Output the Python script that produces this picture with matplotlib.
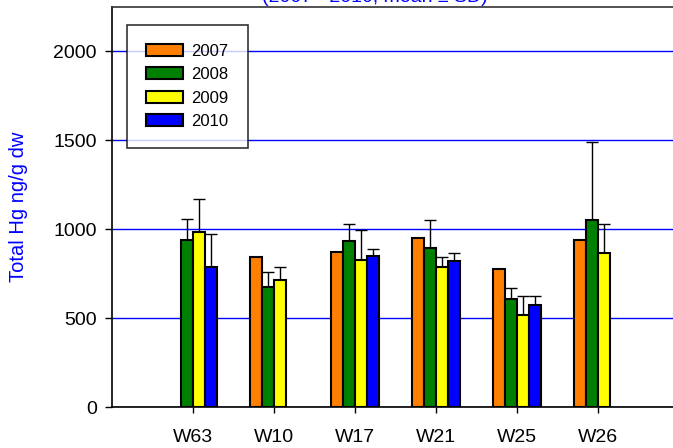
import numpy as np
import matplotlib
matplotlib.use("Agg")
import matplotlib.pyplot as plt

plt.rcParams['font.family'] = ['Liberation Sans', 'DejaVu Sans']

# дані
sites = ["W63", "W10", "W17", "W21", "W25", "W26"]
years = ["2007", "2008", "2009", "2010"]
colors = ["#ff8000", "#008000", "#ffff00", "#0000ff"]
nan = np.nan
mean_2007 = [nan, 841, 871, 948, 774, 939]
mean_2008 = [941, 676, 931, 892, 608, 1050]
mean_2009 = [984, 715, 828, 787, 520, 868]
mean_2010 = [785, nan, 849, 824, 575, nan]
sd_2007 = [0, 0, 0, 0, 0, 0]
sd_2008 = [116, 83, 98, 160, 61, 443]
sd_2009 = [186, 70, 169, 58, 102, 159]
sd_2010 = [186, 0, 37, 45, 52, 0]

means = [mean_2007, mean_2008, mean_2009, mean_2010]
sds = [sd_2007, sd_2008, sd_2009, sd_2010]

fig = plt.figure(figsize=(6.73, 4.48), dpi=100)
ax = fig.add_axes([112 / 673, 41 / 448, 567 / 673, 400 / 448])

x = np.arange(1, len(sites) + 1)
w = 0.15
for i, (yr, c) in enumerate(zip(years, colors)):
    pos = x + (i - 1.5) * w
    vals = np.array(means[i], dtype=float)
    err = np.array(sds[i], dtype=float)
    ax.bar(pos, vals, width=w, color=c, edgecolor='black', linewidth=1.5,
           label=yr, zorder=3)
    has = err > 0
    if has.any():
        ax.errorbar(pos[has], vals[has], yerr=[np.zeros(has.sum()), err[has]],
                    fmt='none', ecolor='black', elinewidth=1, capsize=4.5,
                    capthick=1, zorder=2)

ax.set_xlim(0, 7)
ax.set_ylim(0, 2250)
ax.set_yticks([0, 500, 1000, 1500, 2000])
ax.set_xticks(x)
ax.set_xticklabels(sites)
ax.tick_params(axis='both', labelsize=14, direction='out', width=1)
ax.tick_params(axis='y', length=5, pad=6)
ax.tick_params(axis='x', length=4, pad=12)
ax.grid(axis='y', color='#0000ff', linewidth=1, zorder=0)
for s in ['left', 'bottom', 'top']:
    ax.spines[s].set_linewidth(1.2)
ax.spines['top'].set_color('#333333')
ax.spines['right'].set_visible(False)

ax.set_ylabel('Total Hg ng/g dw', color='#0000ff', fontsize=14.5)
ax.yaxis.set_label_coords(-0.148, 0.5)

# заголовок обрізаний зверху, як в оригіналі
fig.text(375 / 673, 1 - 1.5 / 448, '(2007 - 2010, mean ± SD)', color='#0000ff',
         fontsize=14, ha='center', va='baseline')

leg = ax.legend(loc='upper left', bbox_to_anchor=(0.0265, 0.956), fontsize=12,
                frameon=True, fancybox=False, edgecolor='black',
                handlelength=2.2, handleheight=0.72, labelspacing=0.51,
                borderpad=1.15, handletextpad=0.5, borderaxespad=0)
leg.get_frame().set_linewidth(1.2)
leg.get_frame().set_facecolor('white')
leg.set_zorder(5)

fig.savefig('out.png', dpi=100)
